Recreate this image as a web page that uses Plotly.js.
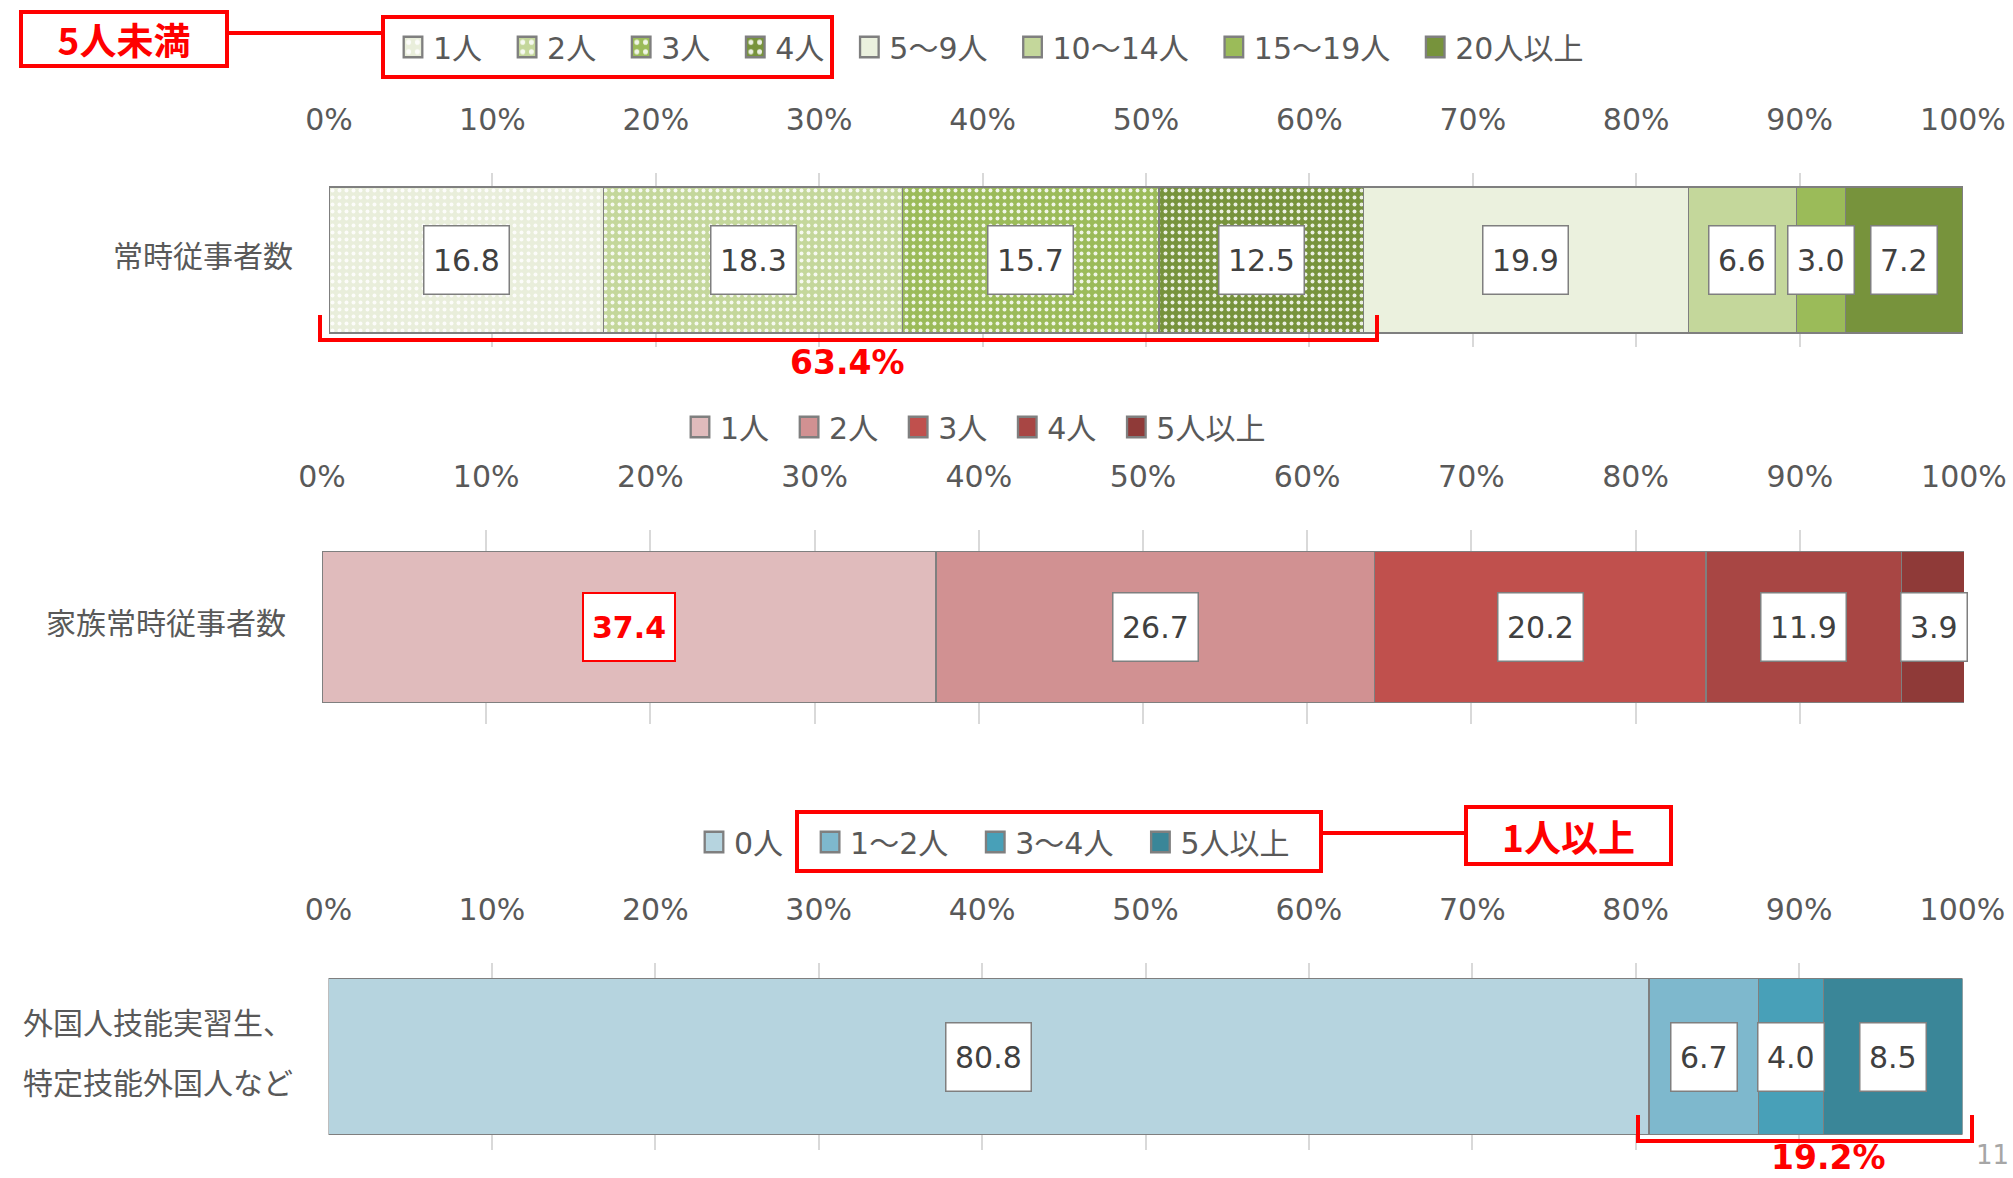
<!DOCTYPE html>
<html>
<head>
<meta charset="utf-8">
<script src="https://cdn.plot.ly/plotly-3.0.1.min.js"></script>
<style>
html,body{margin:0;padding:0;background:#ffffff;}
#chart{width:2013px;height:1178px;}
</style>
</head>
<body>
<div id="chart"></div>
<script>
// ================= DATA =================
const categories = ['常時従事者数', '家族常時従事者数', '外国人技能実習生、<br>特定技能外国人など'];

const regularNames  = ['1人', '2人', '3人', '4人', '5～9人', '10～14人', '15～19人', '20人以上'];
const regularValues = [16.8, 18.3, 15.7, 12.5, 19.9, 6.6, 3.0, 7.2];

const familyNames  = ['1人', '2人', '3人', '4人', '5人以上'];
const familyValues = [37.4, 26.7, 20.2, 11.9, 3.9];

const foreignNames  = ['0人', '1～2人', '3～4人', '5人以上'];
const foreignValues = [80.8, 6.7, 4.0, 8.5];

const tickValues = [0, 10, 20, 30, 40, 50, 60, 70, 80, 90, 100];
const tickLabels = ['0%', '10%', '20%', '30%', '40%', '50%', '60%', '70%', '80%', '90%', '100%'];

const groupLabels = ['5人未満', '1人以上'];
const sumLabels = ['63.4%', '19.2%'];
const pageNumber = '11';

// ================= STYLE =================
const W = 2013, H = 1178;
const FONT = '"DejaVu Sans", "Noto Sans CJK JP", sans-serif';
const JFONT = '"Noto Sans CJK JP", sans-serif';
const RED = '#FF0000';
const GRAY_TXT = '#595959';
const LINE = '#7F7F7F';

const regularColors = ['#E9EEDB', '#C4D79B', '#9BBB59', '#77933C', '#EBF1DE', '#C4D79B', '#9BBB59', '#77933C'];
const regularDotted = [true, true, true, true, false, false, false, false];
const familyColors  = ['#E0BBBC', '#D19192', '#C0504D', '#A84644', '#8F3A38'];
const foreignColors = ['#B6D4DF', '#7EB8CD', '#48A0B8', '#3A8698'];

const px = v => v / W;          // x pixel -> paper
const py = v => 1 - v / H;      // y pixel -> paper

const ctx = document.createElement('canvas').getContext('2d');
function textW(s, size, weight) {
  ctx.font = (weight || 'normal') + ' ' + size + 'px ' + FONT;
  return ctx.measureText(s).width;
}

// subplot geometry (pixels)
const panels = [
  {xa: 'x',  ya: 'y',  leg: 'legend',  x0: 329,   x1: 1963,   top: 173, bot: 347,  barW: 0.837, legX: 393, legY: 47,  legExtra: 20},
  {xa: 'x2', ya: 'y2', leg: 'legend2', x0: 322,   x1: 1964,   top: 530, bot: 724,  barW: 0.778, legX: 680, legY: 427, legExtra: 15},
  {xa: 'x3', ya: 'y3', leg: 'legend3', x0: 328.5, x1: 1962.5, top: 963, bot: 1150, barW: 0.834, legX: 694, legY: 842, legExtra: 22}
];

const series = [
  {names: regularNames, values: regularValues, colors: regularColors, dotted: regularDotted},
  {names: familyNames,  values: familyValues,  colors: familyColors,  dotted: familyNames.map(() => false)},
  {names: foreignNames, values: foreignValues, colors: foreignColors, dotted: foreignNames.map(() => false)}
];

const traces = [];
const annotations = [];
const layout = {
  width: W, height: H,
  margin: {l: 0, r: 0, t: 0, b: 0, pad: 0},
  paper_bgcolor: '#ffffff', plot_bgcolor: 'rgba(0,0,0,0)',
  barmode: 'stack', hovermode: false, showlegend: true,
  font: {family: FONT, color: GRAY_TXT, size: 30},
  shapes: [], annotations: annotations
};

series.forEach((s, i) => {
  const p = panels[i];
  const cat = categories[i];
  let cum = 0;
  s.names.forEach((name, j) => {
    const v = s.values[j];
    const marker = {color: s.colors[j], line: {color: LINE, width: 1.5}};
    if (s.dotted[j]) {
      marker.pattern = {shape: '.', fillmode: 'overlay', bgcolor: s.colors[j], fgcolor: '#FFFFFF',
                        fgopacity: 0.85, size: 7, solidity: 0.25};
    }
    traces.push({
      type: 'bar', orientation: 'h',
      name: name, x: [v], y: [cat],
      xaxis: p.xa, yaxis: p.ya, legend: p.leg,
      width: p.barW, marker: marker,
      legendwidth: textW(name, 30) + p.legExtra,
      hoverinfo: 'skip', textposition: 'none'
    });
    // value label box
    const highlight = (i === 1 && j === 0);
    const txt = v.toFixed(1);
    const outerW = textW(txt, 30, highlight ? 'bold' : 'normal') + 20;
    const bw = highlight ? 2 : 1.5;
    annotations.push({
      xref: p.xa, yref: p.ya, x: cum + v / 2, y: cat,
      text: txt, showarrow: false,
      font: {family: FONT, size: 30, color: highlight ? RED : '#404040', weight: highlight ? 'bold' : 'normal'},
      bgcolor: '#FFFFFF', bordercolor: highlight ? RED : LINE, borderwidth: bw, borderpad: 0,
      width: outerW - 2 * bw, height: 70 - 2 * bw,
      xanchor: 'center', yanchor: 'middle', align: 'center', valign: 'middle'
    });
    cum += v;
  });

  // axes
  const xname = p.xa === 'x' ? 'xaxis' : 'xaxis' + p.xa.slice(1);
  const yname = p.ya === 'y' ? 'yaxis' : 'yaxis' + p.ya.slice(1);
  layout[xname] = {
    domain: [px(p.x0), px(p.x1)], anchor: p.ya, side: 'top',
    range: [0, 100], tickmode: 'array', tickvals: tickValues, ticktext: tickLabels,
    showgrid: true, gridcolor: '#D9D9D9', gridwidth: 2,
    zeroline: false, showline: false,
    ticks: 'outside', ticklen: 30, tickcolor: 'rgba(0,0,0,0)',
    tickfont: {family: FONT, size: 30, color: GRAY_TXT},
    fixedrange: true
  };
  layout[yname] = {
    domain: [py(p.bot), py(p.top)], anchor: p.xa,
    type: 'category', range: [-0.5, 0.5],
    showticklabels: false, showgrid: false, zeroline: false, showline: false, ticks: '',
    fixedrange: true
  };
  layout[p.leg] = {
    orientation: 'h', x: px(p.legX), xanchor: 'left', y: py(p.legY), yanchor: 'middle',
    font: {family: FONT, size: 30, color: GRAY_TXT},
    bgcolor: 'rgba(0,0,0,0)', borderwidth: 0, traceorder: 'normal'
  };

  // category label (one annotation per line)
  const lines = cat.split('<br>');
  lines.forEach((ln, k) => {
    annotations.push({
      xref: 'paper', yref: p.ya, x: px(p.x0 - 34), y: cat,
      xanchor: 'right', yanchor: 'middle', showarrow: false,
      text: ln, font: {family: JFONT, size: 30, color: GRAY_TXT},
      yshift: 6 + ((lines.length - 1) / 2 - k) * 60
    });
  });
});

// ---------- red highlight decorations ----------
function rect(x0, y0, x1, y1) {
  return {type: 'rect', xref: 'paper', yref: 'paper', x0: px(x0), x1: px(x1), y0: py(y1), y1: py(y0),
          line: {color: RED, width: 4}, fillcolor: 'rgba(0,0,0,0)', layer: 'above'};
}
function hline(x0, x1, y) {
  return {type: 'line', xref: 'paper', yref: 'paper', x0: px(x0), x1: px(x1), y0: py(y), y1: py(y),
          line: {color: RED, width: 4}, layer: 'above'};
}
function bracket(x0, x1, yTop, yBot) {
  return {type: 'path', xref: 'paper', yref: 'paper', layer: 'above',
          path: 'M' + px(x0) + ',' + py(yTop) + ' L' + px(x0) + ',' + py(yBot) +
                ' L' + px(x1) + ',' + py(yBot) + ' L' + px(x1) + ',' + py(yTop),
          line: {color: RED, width: 4}};
}
layout.shapes.push(rect(383, 17, 832, 77));
layout.shapes.push(hline(229, 383, 33));
layout.shapes.push(bracket(320, 1377, 315, 340));
layout.shapes.push(rect(797, 812, 1321, 871));
layout.shapes.push(hline(1321, 1464, 833));
layout.shapes.push(bracket(1638, 1972, 1115, 1141));

function groupBox(text, x0, y0, x1, y1) {
  return {xref: 'paper', yref: 'paper', x: px((x0 + x1) / 2), y: py((y0 + y1) / 2),
          xanchor: 'center', yanchor: 'middle', showarrow: false, text: text,
          font: {family: JFONT, size: 37, color: RED, weight: 'bold'},
          bgcolor: '#FFFFFF', bordercolor: RED, borderwidth: 4, borderpad: 0,
          width: (x1 - x0) - 8, height: (y1 - y0) - 8};
}
annotations.push(groupBox(groupLabels[0], 19, 10, 229, 68));
annotations.push(groupBox(groupLabels[1], 1464, 805, 1673, 866));

function sumLabel(text, cx, cy) {
  return {xref: 'paper', yref: 'paper', x: px(cx), y: py(cy), xanchor: 'center', yanchor: 'middle',
          showarrow: false, text: text, font: {family: FONT, size: 33, color: RED, weight: 'bold'}};
}
annotations.push(sumLabel(sumLabels[0], 847, 362));
annotations.push(sumLabel(sumLabels[1], 1828, 1157));

annotations.push({xref: 'paper', yref: 'paper', x: px(2011), y: py(1155), xanchor: 'right', yanchor: 'middle',
  showarrow: false, text: pageNumber, font: {family: FONT, size: 26, color: '#A6A6A6'}});

Plotly.newPlot('chart', traces, layout, {displayModeBar: false, staticPlot: true}).then(gd => {
  // enlarge legend swatches (keeping Plotly's own placement) to match the reference's larger colour keys
  gd.querySelectorAll('.legendpoints path').forEach(p => {
    const t = p.getAttribute('transform') || '';
    p.setAttribute('transform', t + ' scale(1.55,1.7)');
  });
});
</script>
</body>
</html>
